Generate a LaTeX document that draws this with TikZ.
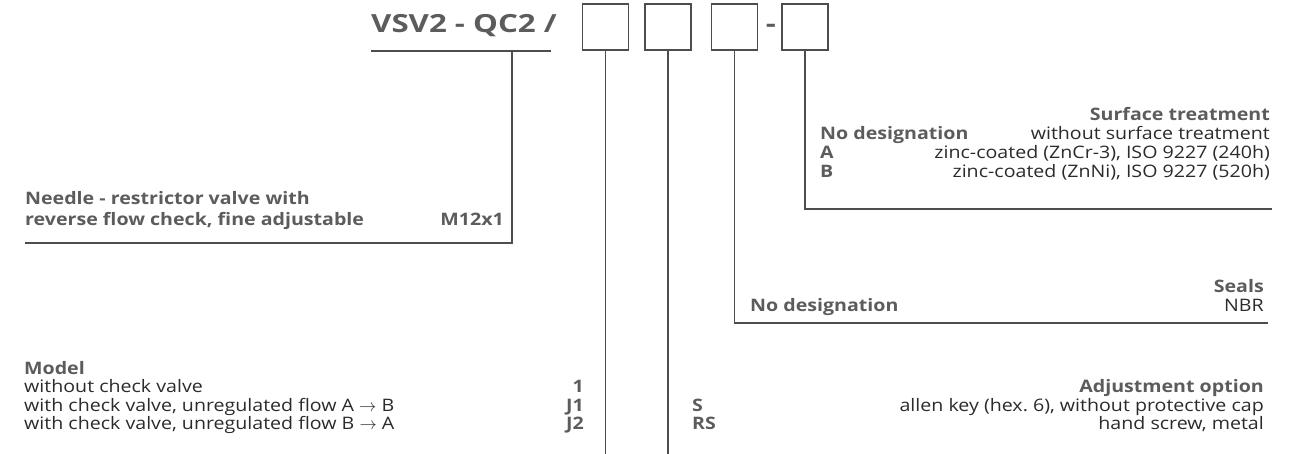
\documentclass[tikz,border=0pt]{standalone}
\usepackage{fontspec}
\setmainfont[FakeStretch=1.14]{Open Sans}
\newfontfamily\titlefont[FakeStretch=1.25]{Open Sans}
\definecolor{headgray}{HTML}{5C5C5C}
\definecolor{txtdark}{HTML}{2B2B2B}
\definecolor{linegray}{HTML}{4D4D4D}
\begin{document}
\begin{tikzpicture}[x=1pt,y=-1pt,
  hd/.style={font=\frenchspacing\fontsize{17.2}{20}\selectfont\bfseries, text=headgray, inner sep=0},
  tx/.style={font=\frenchspacing\fontsize{17.2}{20}\selectfont, text=txtdark, inner sep=0},
  ttl/.style={font=\titlefont\fontsize{25}{30}\selectfont\bfseries, text=headgray, inner sep=0},
  codebox/.style={draw=linegray, line width=1.2, minimum width=46, minimum height=46, inner sep=0},
  ln/.style={draw=linegray, line width=1.2}]
\useasboundingbox (0,0) rectangle (1307,454);
% title and boxes
\node[ttl, anchor=base west] (title) at (371,33) {VSV2 - QC2 /};
\node[codebox] (b1) at (605.5,27) {};
\node[codebox] (b2) at (668,27) {};
\node[codebox] (b3) at (734.5,27) {};
\node[ttl, anchor=base] (dash) at (771,33) {-};
\node[codebox] (b4) at (805,27) {};
\coordinate (ul) at (371,51);
\coordinate (ur) at (551,51);
\coordinate (u) at (512,51);
\draw[ln] (ul) -- (ur);
% thread
\node[hd, anchor=base west] (n1) at (25,205) {Needle - restrictor valve with};
\node[hd, anchor=base west] (n2) at (25,226) {reverse flow check, fine adjustable};
\node[hd, anchor=base east] (m12) at (504,226) {M12x1};
\coordinate (c1) at (25,243);
\draw[ln] (u) |- (c1);
% surface treatment
\node[hd, anchor=base east] (st) at (1270,121) {Surface treatment};
\node[hd, anchor=base west] (st0) at (820,140) {No designation};
\node[tx, anchor=base east] (st0t) at (1270,140) {without surface treatment};
\node[hd, anchor=base west] (sta) at (820,159) {A};
\node[tx, anchor=base east] (stat) at (1270,159) {zinc-coated (ZnCr-3), ISO 9227 (240h)};
\node[hd, anchor=base west] (stb) at (820,178) {B};
\node[tx, anchor=base east] (stbt) at (1270,178) {zinc-coated (ZnNi), ISO 9227 (520h)};
\coordinate (c4) at (1272,209);
\draw[ln] (b4.south) |- (c4);
% seals
\node[hd, anchor=base east] (se) at (1264,293) {Seals};
\node[hd, anchor=base west] (se0) at (750,312) {No designation};
\node[tx, anchor=base east] (se0t) at (1264,312) {NBR};
\coordinate (c3) at (1268,323);
\draw[ln] (b3.south) |- (c3);
% model
\node[hd, anchor=base west] (mo) at (24,374) {Model};
\node[tx, anchor=base west] (mo1) at (24,392.5) {without check valve};
\node[tx, anchor=base west] (mo2) at (24,411) {with check valve, unregulated flow A $\rightarrow$ B};
\node[tx, anchor=base west] (mo3) at (24,429.5) {with check valve, unregulated flow B $\rightarrow$ A};
\node[hd, anchor=base east] (mo1c) at (584,392.5) {1};
\node[hd, anchor=base east] (mo2c) at (584,411) {J1};
\node[hd, anchor=base east] (mo3c) at (584,429.5) {J2};
\coordinate (e1) at (605.5,454);
\draw[ln] (b1.south) -- (e1);
% adjustment
\node[hd, anchor=base east] (ad) at (1264,392.5) {Adjustment option};
\node[hd, anchor=base west] (ads) at (692,411) {S};
\node[tx, anchor=base east] (adst) at (1264,411) {allen key (hex. 6), without protective cap};
\node[hd, anchor=base west] (adrs) at (692,429.5) {RS};
\node[tx, anchor=base east] (adrst) at (1264,429.5) {hand screw, metal};
\coordinate (e2) at (668,454);
\draw[ln] (b2.south) -- (e2);
\end{tikzpicture}
\end{document}
